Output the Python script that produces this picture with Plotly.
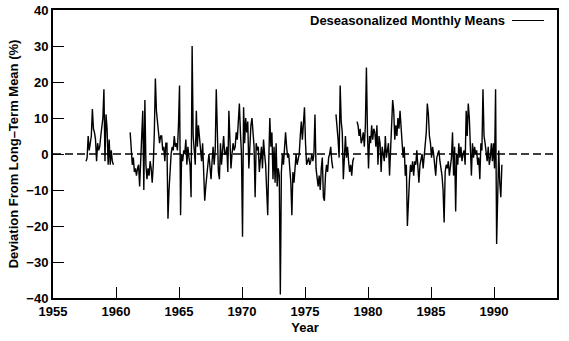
import plotly.graph_objects as go

# Deseasonalized monthly means, deviation from long-term mean (%).
# Each list runs January..December; None marks months with no record.
months_1957_1959 = [
    None, None, None, None, None, None, None, -2, -1, 5, 1, 3,
    5, 12.5, 7, 6, 4, -2, 3, 1, 2, 5, 8, 10,
    18, -2, 11, 7, -3, 4, -3, 1, -2, -3, None, None,
]
months_1960s = [
    None, None, None, None, None, None, None, None, None, None, None, None,
    None, 6, 2, -3, -1, -5, -4, -6, -4, -3, -9, 0,
    4, 12, -10, 15, -3, -7, -4, -6, -2, -4, -8, -3,
    6, 21, 12, 9, 7, 3, 5, 5, 1, 2, -2, 3,
    3, -18, -10, -4, 0, 2, 1, 5, 2, 3, 1, 8,
    19, -17, 0, -2, 1, 0, 4, -3, 2, -1, -3, -12,
    30, 5, 2, -3, 12, 2, 8, 5, 0, -2, 3, -8,
    -13, -9, -5, -3, 0, -4, -7, -2, 2, -3, 1, 18,
    2, -5, -7, 3, -3, 1, 5, 0, 0, 2, -5, 12,
    4, -4, 0, 3, 1, 2, 6, 4, 9, 14, 6, 0,
]
months_1970s = [
    -23, 13, 3, 10, 6, 9, -4, 5, 8, 10, 4, 2,
    -12, 3, 1, 2, -5, 0, 2, -4, 4, 0, -3, -10,
    -17, -2, 10, 2, 6, -7, 2, -8, 3, -9, -4, -6,
    -39, -5, 0, -3, 3, 6, 2, -1, 0, -5, -8, -17,
    -5, -8, -3, 0, -3, -1, 0, 5, 9, 4, 10, 13,
    3, -3, -2, -1, -3, -2, 0, -2, 0, 11, -4, -6,
    -9, -6, -10, -4, -1, -12, -13, -6, -3, -5, -1, 0,
    2, -2, -4, None, None, 11, 8, 4, -1, 19, 9, 6,
    -7, 2, 5, -1, 2, -2, -5, -3, -6, -2, -1, None,
    None, 9, 8, 5, 7, 3, 4, 6, 2, 8, 24, 6,
]
months_1980s = [
    -4, 5, 3, 8, 4, 7, 6, 2, 8, -3, 5, 3,
    -5, 2, 0, -2, 5, -1, 1, 3, -6, 3, 8, 15,
    12, 4, 8, 5, 10, 7, 12, 5, 3, -1, 2, -6,
    -3, -20, -10, -7, -3, -5, -2, -6, -2, -3, 1, -4,
    -8, -3, -1, 0, -4, -1, 3, 6, 14, 11, 5, 3,
    -1, 2, 0, -3, -6, -1, 0, 1, -2, -4, -6, -10,
    -19, -5, -3, -4, -2, -6, -3, -1, 6, -6, 2, -16,
    0, -3, 3, -1, 2, -2, 0, 1, -3, 12, 5, 14,
    10, 0, -6, 3, -1, 2, 0, 1, -3, -1, -7, 3,
    1, 18, 5, 3, 0, -2, 2, -3, -1, 3, -2, 3,
]
months_1990 = [-4, 18, -25, -5, 1, -8, -12, -3]

first_year = 1957
series_name = "Deseasonalized Monthly Means"
year_ticks = [1955, 1960, 1965, 1970, 1975, 1980, 1985, 1990, 1995]
pct_ticks = [-40, -30, -20, -10, 0, 10, 20, 30, 40]

values = months_1957_1959 + months_1960s + months_1970s + months_1980s + months_1990
# mid-month positions as decimal years
years = [first_year + (i + 0.5) / 12 for i in range(len(values))]

FONT = "Liberation Sans, Arial, Helvetica, sans-serif"
bold13 = dict(family=FONT, size=13, color="black", weight="bold")

fig = go.Figure()
fig.add_trace(go.Scatter(
    x=years, y=values, mode="lines", name=series_name,
    line=dict(color="black", width=1.4), connectgaps=False, showlegend=False,
))

# long-term mean reference line
fig.add_hline(y=0, line=dict(color="black", width=1.4, dash="8px,4px"), layer="below")

# key: label followed by a line sample
fig.add_annotation(
    x=0.9008, y=0.9635, xref="paper", yref="paper", xanchor="right", yanchor="middle",
    text=series_name, showarrow=False, font=bold13,
)
fig.add_shape(type="line", xref="paper", yref="paper",
              x0=0.9107, x1=0.9742, y0=0.9635, y1=0.9635,
              line=dict(color="black", width=1.2))

fig.update_xaxes(
    range=[1955, 1995], tickvals=year_ticks, ticktext=[str(v) for v in year_ticks],
    ticks="inside", ticklen=11, tickwidth=1.2, tickcolor="black",
    showline=True, linewidth=2, linecolor="black", mirror=True,
    showgrid=False, zeroline=False, tickfont=bold13,
    title=dict(text="Year", font=bold13, standoff=5),
)
fig.update_yaxes(
    range=[-40, 40], tickvals=pct_ticks,
    ticks="inside", ticklen=11, tickwidth=1.2, tickcolor="black",
    showline=True, linewidth=2, linecolor="black", mirror=True,
    showgrid=False, zeroline=False, tickfont=bold13,
    title=dict(text="Deviation From Long\u2013Term Mean (%)", font=bold13, standoff=5),
)
fig.update_layout(
    width=569, height=341,
    margin=dict(l=53, r=12, t=10, b=43, autoexpand=False),
    paper_bgcolor="white", plot_bgcolor="white",
    font=dict(family=FONT, color="black"),
)

fig.write_html("out.html")
